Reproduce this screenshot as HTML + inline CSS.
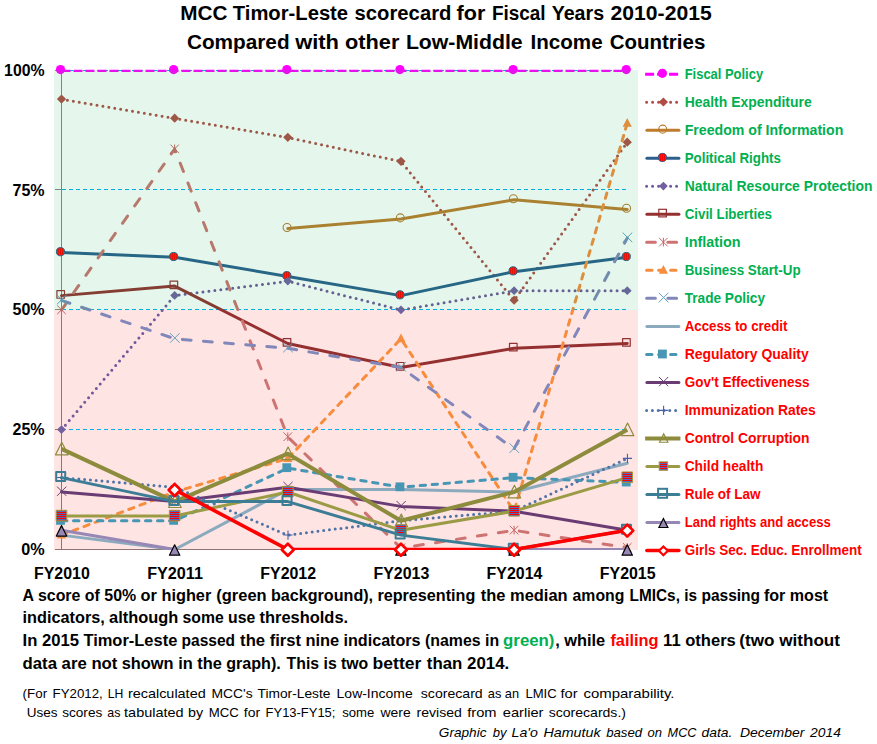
<!DOCTYPE html>
<html lang="en"><head><meta charset="utf-8"><title>MCC Timor-Leste scorecard for Fiscal Years 2010-2015</title>
<style>html,body{margin:0;padding:0;background:#fff}body{width:877px;height:744px;overflow:hidden}svg{display:block}text{white-space:pre}</style>
</head><body>
<svg width="877" height="744" viewBox="0 0 877 744" font-family="'Liberation Sans', sans-serif">
<defs>
<pattern id="pv" width="2" height="4" patternUnits="userSpaceOnUse" shape-rendering="crispEdges"><rect width="2" height="4" fill="#3F5FA8"/><rect x="0" width="1" height="4" fill="#FF0000"/></pattern>
<pattern id="ph" width="4" height="2" patternUnits="userSpaceOnUse" shape-rendering="crispEdges"><rect width="4" height="2" fill="#5566BB"/><rect y="0" width="4" height="1" fill="#FF0000"/></pattern>
<clipPath id="pc"><rect x="40" y="69.7" width="620" height="480.4"/></clipPath>
</defs>
<rect width="877" height="744" fill="#fff"/>
<rect x="54" y="310" width="584" height="240" fill="#FFE4E4"/>
<path d="M62 70.5H626.5" stroke="#00B0F0" stroke-width="1" stroke-dasharray="4 3" fill="none"/>
<path d="M62 189.5H626.5" stroke="#00B0F0" stroke-width="1" stroke-dasharray="4 3" fill="none"/>
<path d="M62 309.5H626.5" stroke="#00B0F0" stroke-width="1" stroke-dasharray="4 3" fill="none"/>
<path d="M62 429.5H626.5" stroke="#00B0F0" stroke-width="1" stroke-dasharray="4 3" fill="none"/>
<path d="M61.5 70V310M55 70.5H61.5M55 189.5H61.5M55 309.5H61.5" stroke="#868686" stroke-width="1" fill="none"/>
<path d="M61.5 310V550M55 549.5H627.5M55 429.5H61.5" stroke="#927477" stroke-width="1" fill="none"/>
<g fill="none" stroke-linejoin="round">
<path clip-path="url(#pc)" d="M61.50 70.50L174.65 70.50L287.80 70.50L400.95 70.50L514.10 70.50L627.25 70.50" stroke="#FF00FF" stroke-width="3" stroke-linecap="butt" stroke-dasharray="9 3"/>
<circle cx="60.5" cy="69.6" r="4.6" fill="#FF00FF"/>
<circle cx="173.65" cy="69.6" r="4.6" fill="#FF00FF"/>
<circle cx="286.8" cy="69.6" r="4.6" fill="#FF00FF"/>
<circle cx="399.95" cy="69.6" r="4.6" fill="#FF00FF"/>
<circle cx="513.1" cy="69.6" r="4.6" fill="#FF00FF"/>
<circle cx="626.25" cy="69.6" r="4.6" fill="#FF00FF"/>
<path clip-path="url(#pc)" d="M61.50 99.24L174.65 118.40L287.80 137.56L400.95 161.51L514.10 300.42L627.25 142.35" stroke="#B04C46" stroke-width="3" stroke-linecap="round" stroke-dasharray="0 6"/>
<path d="M61.5 94.44L66.1 99.04L61.5 103.64L56.9 99.04Z" fill="#B04C46"/>
<path d="M174.65 113.6L179.25 118.2L174.65 122.8L170.05 118.2Z" fill="#B04C46"/>
<path d="M287.8 132.76L292.4 137.36L287.8 141.96L283.2 137.36Z" fill="#B04C46"/>
<path d="M400.95 156.71L405.55 161.31L400.95 165.91L396.35 161.31Z" fill="#B04C46"/>
<path d="M514.1 295.62L518.7 300.22L514.1 304.82L509.5 300.22Z" fill="#B04C46"/>
<path d="M627.25 137.55L631.85 142.15L627.25 146.75L622.65 142.15Z" fill="#B04C46"/>
<path clip-path="url(#pc)" d="M287.80 228.57L400.95 218.99L514.10 199.83L627.25 209.41" stroke="#BE7C2D" stroke-width="3" stroke-linecap="round"/>
<circle cx="287.1" cy="227.47" r="4" fill="none" stroke="#B97A2D" stroke-width="1.1"/>
<circle cx="400.25" cy="217.89" r="4" fill="none" stroke="#B97A2D" stroke-width="1.1"/>
<circle cx="513.4" cy="198.73" r="4" fill="none" stroke="#B97A2D" stroke-width="1.1"/>
<circle cx="626.55" cy="208.31" r="4" fill="none" stroke="#B97A2D" stroke-width="1.1"/>
<path clip-path="url(#pc)" d="M61.50 252.52L174.65 257.31L287.80 276.47L400.95 295.63L514.10 271.68L627.25 257.31" stroke="#2C5F8C" stroke-width="3" stroke-linecap="round"/>
<circle cx="60.5" cy="251.72" r="4.1" fill="url(#pv)" stroke="#2C5F8C" stroke-width="1"/>
<circle cx="173.65" cy="256.51" r="4.1" fill="url(#pv)" stroke="#2C5F8C" stroke-width="1"/>
<circle cx="286.8" cy="275.67" r="4.1" fill="url(#pv)" stroke="#2C5F8C" stroke-width="1"/>
<circle cx="399.95" cy="294.83" r="4.1" fill="url(#pv)" stroke="#2C5F8C" stroke-width="1"/>
<circle cx="513.1" cy="270.88" r="4.1" fill="url(#pv)" stroke="#2C5F8C" stroke-width="1"/>
<circle cx="626.25" cy="256.51" r="4.1" fill="url(#pv)" stroke="#2C5F8C" stroke-width="1"/>
<path clip-path="url(#pc)" d="M61.50 429.75L174.65 295.63L287.80 281.26L400.95 310.00L514.10 290.84L627.25 290.84" stroke="#70589A" stroke-width="3" stroke-linecap="round" stroke-dasharray="0 6"/>
<path d="M61.5 425.15L65.9 429.55L61.5 433.95L57.1 429.55Z" fill="#7260A0"/>
<path d="M174.65 291.03L179.05 295.43L174.65 299.83L170.25 295.43Z" fill="#7260A0"/>
<path d="M287.8 276.66L292.2 281.06L287.8 285.46L283.4 281.06Z" fill="#7260A0"/>
<path d="M400.95 305.4L405.35 309.8L400.95 314.2L396.55 309.8Z" fill="#7260A0"/>
<path d="M514.1 286.24L518.5 290.64L514.1 295.04L509.7 290.64Z" fill="#7260A0"/>
<path d="M627.25 286.24L631.65 290.64L627.25 295.04L622.85 290.64Z" fill="#7260A0"/>
<path clip-path="url(#pc)" d="M61.50 295.63L174.65 286.05L287.80 343.53L400.95 367.48L514.10 348.32L627.25 343.53" stroke="#943030" stroke-width="3" stroke-linecap="round"/>
<rect x="56.9" y="290.63" width="7.6" height="7.6" fill="none" stroke="#943030" stroke-width="1.2"/>
<rect x="170.05" y="281.05" width="7.6" height="7.6" fill="none" stroke="#943030" stroke-width="1.2"/>
<rect x="283.2" y="338.53" width="7.6" height="7.6" fill="none" stroke="#943030" stroke-width="1.2"/>
<rect x="396.35" y="362.48" width="7.6" height="7.6" fill="none" stroke="#943030" stroke-width="1.2"/>
<rect x="509.5" y="343.32" width="7.6" height="7.6" fill="none" stroke="#943030" stroke-width="1.2"/>
<rect x="622.65" y="338.53" width="7.6" height="7.6" fill="none" stroke="#943030" stroke-width="1.2"/>
<path clip-path="url(#pc)" d="M61.50 310.00L174.65 149.06L287.80 436.94L400.95 548.06L514.10 530.34L627.25 547.58" stroke="#CD7371" stroke-width="3" stroke-linecap="round" stroke-dasharray="8.8 12.4"/>
<path d="M57.2 305.5L65.8 314.1M57.2 314.1L65.8 305.5M61.5 305.5L61.5 314.1" stroke="#C86464" stroke-width="1" fill="none"/>
<path d="M170.35 144.56L178.95 153.16M170.35 153.16L178.95 144.56M174.65 144.56L174.65 153.16" stroke="#C86464" stroke-width="1" fill="none"/>
<path d="M283.5 432.44L292.1 441.04M283.5 441.04L292.1 432.44M287.8 432.44L287.8 441.04" stroke="#C86464" stroke-width="1" fill="none"/>
<path d="M396.65 543.56L405.25 552.16M396.65 552.16L405.25 543.56M400.95 543.56L400.95 552.16" stroke="#C86464" stroke-width="1" fill="none"/>
<path d="M509.8 525.84L518.4 534.44M509.8 534.44L518.4 525.84M514.1 525.84L514.1 534.44" stroke="#C86464" stroke-width="1" fill="none"/>
<path d="M622.95 543.08L631.55 551.68M622.95 551.68L631.55 543.08M627.25 543.08L627.25 551.68" stroke="#C86464" stroke-width="1" fill="none"/>
<path clip-path="url(#pc)" d="M61.50 535.13L174.65 492.02L287.80 458.49L400.95 338.74L514.10 511.18L627.25 123.19" stroke="#F68C3C" stroke-width="3" stroke-linecap="round" stroke-dasharray="5.4 6.6"/>
<path d="M61.5 529.83L66.1 538.57L56.9 538.57Z" fill="#F68C3C"/>
<path d="M174.65 486.72L179.25 495.46L170.05 495.46Z" fill="#F68C3C"/>
<path d="M287.8 453.19L292.4 461.93L283.2 461.93Z" fill="#F68C3C"/>
<path d="M400.95 333.44L405.55 342.18L396.35 342.18Z" fill="#F68C3C"/>
<path d="M514.1 505.88L518.7 514.62L509.5 514.62Z" fill="#F68C3C"/>
<path d="M627.25 117.89L631.85 126.63L622.65 126.63Z" fill="#F68C3C"/>
<path clip-path="url(#pc)" d="M61.50 300.42L174.65 338.74L287.80 348.32L400.95 367.48L514.10 448.91L627.25 238.15" stroke="#8287B9" stroke-width="3" stroke-linecap="round" stroke-dasharray="8.8 12.4"/>
<path d="M56.9 294.82L66.5 304.42M56.9 304.42L66.5 294.82" stroke="#5FA0C0" stroke-width="1" fill="none"/>
<path d="M170.05 333.14L179.65 342.74M170.05 342.74L179.65 333.14" stroke="#5FA0C0" stroke-width="1" fill="none"/>
<path d="M283.2 342.72L292.8 352.32M283.2 352.32L292.8 342.72" stroke="#5FA0C0" stroke-width="1" fill="none"/>
<path d="M396.35 361.88L405.95 371.48M396.35 371.48L405.95 361.88" stroke="#5FA0C0" stroke-width="1" fill="none"/>
<path d="M509.5 443.31L519.1 452.91M509.5 452.91L519.1 443.31" stroke="#5FA0C0" stroke-width="1" fill="none"/>
<path d="M622.65 232.55L632.25 242.15M622.65 242.15L632.25 232.55" stroke="#5FA0C0" stroke-width="1" fill="none"/>
<path clip-path="url(#pc)" d="M61.50 535.13L174.65 549.50L287.80 489.62L400.95 489.62L514.10 492.02L627.25 463.28" stroke="#8CAABE" stroke-width="3" stroke-linecap="round"/>
<path clip-path="url(#pc)" d="M61.50 520.76L174.65 520.76L287.80 468.07L400.95 487.23L514.10 477.65L627.25 482.44" stroke="#4696B4" stroke-width="3" stroke-linecap="round" stroke-dasharray="5.4 6.6"/>
<rect x="56.1" y="515.96" width="8.8" height="8.8" fill="#4696B4"/>
<rect x="169.25" y="515.96" width="8.8" height="8.8" fill="#4696B4"/>
<rect x="282.4" y="463.27" width="8.8" height="8.8" fill="#4696B4"/>
<rect x="395.55" y="482.43" width="8.8" height="8.8" fill="#4696B4"/>
<rect x="508.7" y="472.85" width="8.8" height="8.8" fill="#4696B4"/>
<rect x="621.85" y="477.64" width="8.8" height="8.8" fill="#4696B4"/>
<path clip-path="url(#pc)" d="M61.50 492.02L174.65 501.60L287.80 487.23L400.95 506.39L514.10 511.18L627.25 530.34" stroke="#693C73" stroke-width="3" stroke-linecap="round"/>
<path d="M57.1 486.62L66.3 495.82M57.1 495.82L66.3 486.62" stroke="#693C73" stroke-width="1" fill="none"/>
<path d="M170.25 496.2L179.45 505.4M170.25 505.4L179.45 496.2" stroke="#693C73" stroke-width="1" fill="none"/>
<path d="M283.4 481.83L292.6 491.03M283.4 491.03L292.6 481.83" stroke="#693C73" stroke-width="1" fill="none"/>
<path d="M396.55 500.99L405.75 510.19M396.55 510.19L405.75 500.99" stroke="#693C73" stroke-width="1" fill="none"/>
<path d="M509.7 505.78L518.9 514.98M509.7 514.98L518.9 505.78" stroke="#693C73" stroke-width="1" fill="none"/>
<path d="M622.85 524.94L632.05 534.14M622.85 534.14L632.05 524.94" stroke="#693C73" stroke-width="1" fill="none"/>
<path clip-path="url(#pc)" d="M61.50 477.65L174.65 487.23L287.80 535.13L400.95 520.76L514.10 511.18L627.25 458.49" stroke="#5073A5" stroke-width="3" stroke-linecap="round" stroke-dasharray="0 5.8"/>
<path d="M57.1 477.55L66.3 477.55M61.7 472.95L61.7 482.15" stroke="#4A5FAA" stroke-width="1.1" fill="none"/>
<path d="M170.25 487.13L179.45 487.13M174.85 482.53L174.85 491.73" stroke="#4A5FAA" stroke-width="1.1" fill="none"/>
<path d="M283.4 535.03L292.6 535.03M288 530.43L288 539.63" stroke="#4A5FAA" stroke-width="1.1" fill="none"/>
<path d="M396.55 520.66L405.75 520.66M401.15 516.06L401.15 525.26" stroke="#4A5FAA" stroke-width="1.1" fill="none"/>
<path d="M509.7 511.08L518.9 511.08M514.3 506.48L514.3 515.68" stroke="#4A5FAA" stroke-width="1.1" fill="none"/>
<path d="M622.85 458.39L632.05 458.39M627.45 453.79L627.45 462.99" stroke="#4A5FAA" stroke-width="1.1" fill="none"/>
<path clip-path="url(#pc)" d="M61.50 448.91L174.65 501.60L287.80 453.70L400.95 520.76L514.10 492.02L627.25 429.75" stroke="#8C8C3C" stroke-width="4.0" stroke-linecap="butt"/>
<path d="M61.8 442.21L68.1 454.81L55.5 454.81Z" fill="none" stroke="#8C8C3C" stroke-width="1.2"/>
<path d="M174.95 494.9L181.25 507.5L168.65 507.5Z" fill="none" stroke="#8C8C3C" stroke-width="1.2"/>
<path d="M288.1 447L294.4 459.6L281.8 459.6Z" fill="none" stroke="#8C8C3C" stroke-width="1.2"/>
<path d="M401.25 514.06L407.55 526.66L394.95 526.66Z" fill="none" stroke="#8C8C3C" stroke-width="1.2"/>
<path d="M514.4 485.32L520.7 497.92L508.1 497.92Z" fill="none" stroke="#8C8C3C" stroke-width="1.2"/>
<path d="M627.55 423.05L633.85 435.65L621.25 435.65Z" fill="none" stroke="#8C8C3C" stroke-width="1.2"/>
<path clip-path="url(#pc)" d="M61.50 515.97L174.65 515.97L287.80 492.02L400.95 530.34L514.10 511.18L627.25 477.65" stroke="#9B9B46" stroke-width="3" stroke-linecap="round"/>
<rect x="56.2" y="510.27" width="10.6" height="10.6" fill="url(#ph)" stroke="#9B9B46" stroke-width="1"/>
<rect x="169.35" y="510.27" width="10.6" height="10.6" fill="url(#ph)" stroke="#9B9B46" stroke-width="1"/>
<rect x="282.5" y="486.32" width="10.6" height="10.6" fill="url(#ph)" stroke="#9B9B46" stroke-width="1"/>
<rect x="395.65" y="524.64" width="10.6" height="10.6" fill="url(#ph)" stroke="#9B9B46" stroke-width="1"/>
<rect x="508.8" y="505.48" width="10.6" height="10.6" fill="url(#ph)" stroke="#9B9B46" stroke-width="1"/>
<rect x="621.95" y="471.95" width="10.6" height="10.6" fill="url(#ph)" stroke="#9B9B46" stroke-width="1"/>
<path clip-path="url(#pc)" d="M61.50 477.65L174.65 501.60L287.80 501.60L400.95 535.13L514.10 549.50L627.25 530.34" stroke="#3C7D96" stroke-width="3" stroke-linecap="round"/>
<rect x="56.2" y="471.95" width="9" height="9" fill="none" stroke="#3C7D96" stroke-width="2"/>
<rect x="169.35" y="495.9" width="9" height="9" fill="none" stroke="#3C7D96" stroke-width="2"/>
<rect x="282.5" y="495.9" width="9" height="9" fill="none" stroke="#3C7D96" stroke-width="2"/>
<rect x="395.65" y="529.43" width="9" height="9" fill="none" stroke="#3C7D96" stroke-width="2"/>
<rect x="508.8" y="543.8" width="9" height="9" fill="none" stroke="#3C7D96" stroke-width="2"/>
<rect x="621.95" y="524.64" width="9" height="9" fill="none" stroke="#3C7D96" stroke-width="2"/>
<path clip-path="url(#pc)" d="M61.50 530.34L174.65 549.50" stroke="#9687B4" stroke-width="3" stroke-linecap="round"/>
<path clip-path="url(#pc)" d="M400.95 549.50L514.10 549.50L627.25 549.50" stroke="#9687B4" stroke-width="3" stroke-linecap="round"/>
<path d="M61.5 525.64L66.7 536.04L56.3 536.04Z" fill="#9687B4" stroke="#000" stroke-width="1.2"/>
<path d="M174.65 544.8L179.85 555.2L169.45 555.2Z" fill="#9687B4" stroke="#000" stroke-width="1.2"/>
<path d="M400.95 544.8L406.15 555.2L395.75 555.2Z" fill="#9687B4" stroke="#000" stroke-width="1.2"/>
<path d="M514.1 544.8L519.3 555.2L508.9 555.2Z" fill="#9687B4" stroke="#000" stroke-width="1.2"/>
<path d="M627.25 544.8L632.45 555.2L622.05 555.2Z" fill="#9687B4" stroke="#000" stroke-width="1.2"/>
<path clip-path="url(#pc)" d="M174.65 489.62L287.80 549.50L400.95 549.50L514.10 549.50L627.25 530.34" stroke="#FF0000" stroke-width="3.6" stroke-linecap="round"/>
<path d="M174.65 483.93L180.65 489.93L174.65 495.93L168.65 489.93Z" fill="#fff" stroke="#FF0000" stroke-width="2.7"/>
<path d="M287.8 543.8L293.8 549.8L287.8 555.8L281.8 549.8Z" fill="#fff" stroke="#FF0000" stroke-width="2.7"/>
<path d="M400.95 543.8L406.95 549.8L400.95 555.8L394.95 549.8Z" fill="#fff" stroke="#FF0000" stroke-width="2.7"/>
<path d="M514.1 543.8L520.1 549.8L514.1 555.8L508.1 549.8Z" fill="#fff" stroke="#FF0000" stroke-width="2.7"/>
<path d="M627.25 524.64L633.25 530.64L627.25 536.64L621.25 530.64Z" fill="#fff" stroke="#FF0000" stroke-width="2.7"/>
</g>
<rect x="54" y="70" width="584" height="240" fill="#00B050" fill-opacity="0.10"/>
<path d="M645.1 74.20H680.4" stroke="#FF00FF" stroke-width="3" stroke-linecap="butt" fill="none" stroke-dasharray="9 3"/>
<circle cx="662.4" cy="73.3" r="4.6" fill="#FF00FF"/>
<path d="M646.6 102.22H677.5" stroke="#B04C46" stroke-width="3" stroke-linecap="round" fill="none" stroke-dasharray="0 6"/>
<path d="M663.4 97.42L668 102.02L663.4 106.62L658.8 102.02Z" fill="#B04C46"/>
<path d="M646.9 130.24H678.9" stroke="#BE7C2D" stroke-width="3" stroke-linecap="round" fill="none"/>
<circle cx="662.7" cy="129.14" r="4" fill="none" stroke="#B97A2D" stroke-width="1.1"/>
<path d="M646.9 158.26H678.9" stroke="#2C5F8C" stroke-width="3" stroke-linecap="round" fill="none"/>
<circle cx="662.4" cy="157.46" r="4.1" fill="url(#pv)" stroke="#2C5F8C" stroke-width="1"/>
<path d="M646.6 186.28H677.5" stroke="#70589A" stroke-width="3" stroke-linecap="round" fill="none" stroke-dasharray="0 6"/>
<path d="M663.4 181.68L667.8 186.08L663.4 190.48L659 186.08Z" fill="#7260A0"/>
<path d="M646.9 214.30H678.9" stroke="#943030" stroke-width="3" stroke-linecap="round" fill="none"/>
<rect x="658.8" y="209.3" width="7.6" height="7.6" fill="none" stroke="#943030" stroke-width="1.2"/>
<path d="M646.6 242.32H679.0" stroke="#CD7371" stroke-width="3" stroke-linecap="round" fill="none" stroke-dasharray="8.8 12.4"/>
<path d="M659.1 237.82L667.7 246.42M659.1 246.42L667.7 237.82M663.4 237.82L663.4 246.42" stroke="#C86464" stroke-width="1" fill="none"/>
<path d="M646.6 270.34H679.0" stroke="#F68C3C" stroke-width="3" stroke-linecap="round" fill="none" stroke-dasharray="5.4 6.6"/>
<path d="M663.4 265.04L668 273.78L658.8 273.78Z" fill="#F68C3C"/>
<path d="M646.6 298.36H679.0" stroke="#8287B9" stroke-width="3" stroke-linecap="round" fill="none" stroke-dasharray="8.8 12.4"/>
<path d="M658.8 292.76L668.4 302.36M658.8 302.36L668.4 292.76" stroke="#5FA0C0" stroke-width="1" fill="none"/>
<path d="M646.9 326.38H678.9" stroke="#8CAABE" stroke-width="3" stroke-linecap="round" fill="none"/>
<path d="M646.6 354.40H679.0" stroke="#4696B4" stroke-width="3" stroke-linecap="round" fill="none" stroke-dasharray="5.4 6.6"/>
<rect x="658" y="349.6" width="8.8" height="8.8" fill="#4696B4"/>
<path d="M646.9 382.42H678.9" stroke="#693C73" stroke-width="3" stroke-linecap="round" fill="none"/>
<path d="M659 377.02L668.2 386.22M659 386.22L668.2 377.02" stroke="#693C73" stroke-width="1" fill="none"/>
<path d="M646.6 410.44H677.5" stroke="#5073A5" stroke-width="3" stroke-linecap="round" fill="none" stroke-dasharray="0 5.8"/>
<path d="M659 410.34L668.2 410.34M663.6 405.74L663.6 414.94" stroke="#4A5FAA" stroke-width="1.1" fill="none"/>
<path d="M645.1 438.46H680.4" stroke="#8C8C3C" stroke-width="4.0" stroke-linecap="butt" fill="none"/>
<path d="M663.7 433.86L667.9 442.26L659.5 442.26Z" fill="none" stroke="#8C8C3C" stroke-width="1.2"/>
<path d="M646.9 466.48H678.9" stroke="#9B9B46" stroke-width="3" stroke-linecap="round" fill="none"/>
<rect x="659.2" y="461.88" width="8.4" height="8.4" fill="url(#ph)" stroke="#9B9B46" stroke-width="1"/>
<path d="M646.9 494.50H678.9" stroke="#3C7D96" stroke-width="3" stroke-linecap="round" fill="none"/>
<rect x="658.1" y="488.8" width="9" height="9" fill="none" stroke="#3C7D96" stroke-width="2"/>
<path d="M646.9 522.52H678.9" stroke="#9687B4" stroke-width="3" stroke-linecap="round" fill="none"/>
<path d="M663.4 518.52L667.9 527.52L658.9 527.52Z" fill="#9687B4" stroke="#000" stroke-width="1.2"/>
<path d="M646.9 550.54H678.9" stroke="#FF0000" stroke-width="3.6" stroke-linecap="round" fill="none"/>
<path d="M663.4 546.44L667.8 550.84L663.4 555.24L659 550.84Z" fill="#fff" stroke="#FF0000" stroke-width="2.2"/>
<text y="19.7" font-size="20.9" font-weight="bold"><tspan x="180.2" textLength="47.2" lengthAdjust="spacingAndGlyphs">MCC</tspan> <tspan x="232.8" textLength="115.3" lengthAdjust="spacingAndGlyphs">Timor-Leste</tspan> <tspan x="354.6" textLength="96.8" lengthAdjust="spacingAndGlyphs">scorecard</tspan> <tspan x="456.6" textLength="28.8" lengthAdjust="spacingAndGlyphs">for</tspan> <tspan x="491.9" textLength="53.7" lengthAdjust="spacingAndGlyphs">Fiscal</tspan> <tspan x="551.7" textLength="52.4" lengthAdjust="spacingAndGlyphs">Years</tspan> <tspan x="610.6" textLength="101.1" lengthAdjust="spacingAndGlyphs">2010-2015</tspan></text>
<text y="48.6" font-size="20.9" font-weight="bold"><tspan x="186.9" textLength="102.7" lengthAdjust="spacingAndGlyphs">Compared</tspan> <tspan x="295.2" textLength="43.8" lengthAdjust="spacingAndGlyphs">with</tspan> <tspan x="345.0" textLength="54.4" lengthAdjust="spacingAndGlyphs">other</tspan> <tspan x="405.9" textLength="116.8" lengthAdjust="spacingAndGlyphs">Low-Middle</tspan> <tspan x="530.5" textLength="72.1" lengthAdjust="spacingAndGlyphs">Income</tspan> <tspan x="609.7" textLength="95.6" lengthAdjust="spacingAndGlyphs">Countries</tspan></text>
<text y="76.0" font-size="16.3" font-weight="bold" x="4.1" textLength="40.5" lengthAdjust="spacingAndGlyphs">100%</text>
<text y="195.6" font-size="16.3" font-weight="bold" x="12.5" textLength="32.1" lengthAdjust="spacingAndGlyphs">75%</text>
<text y="315.0" font-size="16.3" font-weight="bold" x="12.5" textLength="32.1" lengthAdjust="spacingAndGlyphs">50%</text>
<text y="435.0" font-size="16.3" font-weight="bold" x="12.5" textLength="32.1" lengthAdjust="spacingAndGlyphs">25%</text>
<text y="555.0" font-size="16.3" font-weight="bold" x="21.2" textLength="23.4" lengthAdjust="spacingAndGlyphs">0%</text>
<text y="578.9" font-size="16.3" font-weight="bold"><tspan x="34.0" textLength="55.8" lengthAdjust="spacingAndGlyphs">FY2010</tspan> <tspan x="147.2" textLength="55.8" lengthAdjust="spacingAndGlyphs">FY2011</tspan> <tspan x="260.3" textLength="55.8" lengthAdjust="spacingAndGlyphs">FY2012</tspan> <tspan x="373.5" textLength="55.8" lengthAdjust="spacingAndGlyphs">FY2013</tspan> <tspan x="486.6" textLength="55.8" lengthAdjust="spacingAndGlyphs">FY2014</tspan> <tspan x="599.8" textLength="55.8" lengthAdjust="spacingAndGlyphs">FY2015</tspan></text>
<text y="600.7" font-size="16.3" font-weight="bold"><tspan x="22.6" textLength="113.6" lengthAdjust="spacingAndGlyphs">A score of 50%</tspan> <tspan x="140.6" textLength="70.7" lengthAdjust="spacingAndGlyphs">or higher</tspan> <tspan x="216.3" textLength="50.3" lengthAdjust="spacingAndGlyphs">(green</tspan> <tspan x="271.0" textLength="102.1" lengthAdjust="spacingAndGlyphs">background),</tspan> <tspan x="377.4" textLength="97.9" lengthAdjust="spacingAndGlyphs">representing</tspan> <tspan x="480.8" textLength="86.8" lengthAdjust="spacingAndGlyphs">the median</tspan> <tspan x="572.6" textLength="51.7" lengthAdjust="spacingAndGlyphs">among</tspan> <tspan x="629.6" textLength="67.4" lengthAdjust="spacingAndGlyphs">LMICs, is</tspan> <tspan x="701.4" textLength="58.7" lengthAdjust="spacingAndGlyphs">passing</tspan> <tspan x="763.9" textLength="64.3" lengthAdjust="spacingAndGlyphs">for most</tspan></text>
<text y="623.4" font-size="16.3" font-weight="bold"><tspan x="22.6" textLength="82.2" lengthAdjust="spacingAndGlyphs">indicators,</tspan> <tspan x="109.1" textLength="69.2" lengthAdjust="spacingAndGlyphs">although</tspan> <tspan x="182.6" textLength="72.6" lengthAdjust="spacingAndGlyphs">some use</tspan> <tspan x="259.5" textLength="88.6" lengthAdjust="spacingAndGlyphs">thresholds.</tspan></text>
<text y="645.9" font-size="16.3" font-weight="bold"><tspan x="22.6" textLength="56.5" lengthAdjust="spacingAndGlyphs">In 2015</tspan> <tspan x="83.4" textLength="93.9" lengthAdjust="spacingAndGlyphs">Timor-Leste</tspan> <tspan x="181.6" textLength="53.5" lengthAdjust="spacingAndGlyphs">passed</tspan> <tspan x="240.1" textLength="61.0" lengthAdjust="spacingAndGlyphs">the first</tspan> <tspan x="305.4" textLength="33.8" lengthAdjust="spacingAndGlyphs">nine</tspan> <tspan x="343.5" textLength="77.1" lengthAdjust="spacingAndGlyphs">indicators</tspan> <tspan x="425.1" textLength="74.0" lengthAdjust="spacingAndGlyphs">(names in</tspan> <tspan x="503.1" textLength="51.3" lengthAdjust="spacingAndGlyphs" fill="#00B050">green)</tspan> <tspan x="555.2" textLength="50.0" lengthAdjust="spacingAndGlyphs">, while</tspan> <tspan x="610.4" textLength="48.1" lengthAdjust="spacingAndGlyphs" fill="#FF0000">failing</tspan> <tspan x="663.1" textLength="72.7" lengthAdjust="spacingAndGlyphs">11 others</tspan> <tspan x="739.3" textLength="100.7" lengthAdjust="spacingAndGlyphs">(two without</tspan></text>
<text y="668.5" font-size="16.3" font-weight="bold"><tspan x="22.6" textLength="94.8" lengthAdjust="spacingAndGlyphs">data are not</tspan> <tspan x="121.7" textLength="100.2" lengthAdjust="spacingAndGlyphs">shown in the</tspan> <tspan x="226.2" textLength="54.6" lengthAdjust="spacingAndGlyphs">graph).</tspan> <tspan x="286.6" textLength="81.7" lengthAdjust="spacingAndGlyphs">This is two</tspan> <tspan x="372.6" textLength="48.7" lengthAdjust="spacingAndGlyphs">better</tspan> <tspan x="426.8" textLength="82.4" lengthAdjust="spacingAndGlyphs">than 2014.</tspan></text>
<text y="698.1" font-size="13.0"><tspan x="22.6" textLength="24.5" lengthAdjust="spacingAndGlyphs">(For</tspan> <tspan x="52.6" textLength="50.2" lengthAdjust="spacingAndGlyphs">FY2012,</tspan> <tspan x="107.8" textLength="15.6" lengthAdjust="spacingAndGlyphs">LH</tspan> <tspan x="127.9" textLength="77.8" lengthAdjust="spacingAndGlyphs">recalculated</tspan> <tspan x="211.4" textLength="41.2" lengthAdjust="spacingAndGlyphs">MCC's</tspan> <tspan x="257.6" textLength="72.8" lengthAdjust="spacingAndGlyphs">Timor-Leste</tspan> <tspan x="336.6" textLength="76.1" lengthAdjust="spacingAndGlyphs">Low-Income</tspan> <tspan x="420.8" textLength="61.9" lengthAdjust="spacingAndGlyphs">scorecard</tspan> <tspan x="487.8" textLength="31.3" lengthAdjust="spacingAndGlyphs">as an</tspan> <tspan x="525.4" textLength="31.3" lengthAdjust="spacingAndGlyphs">LMIC</tspan> <tspan x="560.5" textLength="17.1" lengthAdjust="spacingAndGlyphs">for</tspan> <tspan x="583.6" textLength="90.9" lengthAdjust="spacingAndGlyphs">comparability.</tspan></text>
<text y="717.1" font-size="13.0"><tspan x="26.8" textLength="30.8" lengthAdjust="spacingAndGlyphs">Uses</tspan> <tspan x="62.2" textLength="40.1" lengthAdjust="spacingAndGlyphs">scores</tspan> <tspan x="107.3" textLength="13.1" lengthAdjust="spacingAndGlyphs">as</tspan> <tspan x="124.1" textLength="59.5" lengthAdjust="spacingAndGlyphs">tabulated</tspan> <tspan x="188.1" textLength="15.1" lengthAdjust="spacingAndGlyphs">by</tspan> <tspan x="208.7" textLength="30.1" lengthAdjust="spacingAndGlyphs">MCC</tspan> <tspan x="243.8" textLength="16.3" lengthAdjust="spacingAndGlyphs">for</tspan> <tspan x="265.6" textLength="69.8" lengthAdjust="spacingAndGlyphs">FY13-FY15;</tspan> <tspan x="342.2" textLength="32.1" lengthAdjust="spacingAndGlyphs">some</tspan> <tspan x="380.5" textLength="30.2" lengthAdjust="spacingAndGlyphs">were</tspan> <tspan x="416.6" textLength="45.3" lengthAdjust="spacingAndGlyphs">revised</tspan> <tspan x="467.2" textLength="29.3" lengthAdjust="spacingAndGlyphs">from</tspan> <tspan x="502.8" textLength="40.7" lengthAdjust="spacingAndGlyphs">earlier</tspan> <tspan x="548.7" textLength="77.3" lengthAdjust="spacingAndGlyphs">scorecards.)</tspan></text>
<text y="736.5" font-size="13.0" font-style="italic"><tspan x="438.8" textLength="47.7" lengthAdjust="spacingAndGlyphs">Graphic</tspan> <tspan x="492.8" textLength="13.8" lengthAdjust="spacingAndGlyphs">by</tspan> <tspan x="511.6" textLength="26.3" lengthAdjust="spacingAndGlyphs">La'o</tspan> <tspan x="543.4" textLength="57.2" lengthAdjust="spacingAndGlyphs">Hamutuk</tspan> <tspan x="606.2" textLength="35.9" lengthAdjust="spacingAndGlyphs">based</tspan> <tspan x="647.6" textLength="14.5" lengthAdjust="spacingAndGlyphs">on</tspan> <tspan x="667.6" textLength="28.9" lengthAdjust="spacingAndGlyphs">MCC</tspan> <tspan x="701.5" textLength="30.9" lengthAdjust="spacingAndGlyphs">data.</tspan> <tspan x="739.9" textLength="64.5" lengthAdjust="spacingAndGlyphs">December</tspan> <tspan x="810.1" textLength="30.8" lengthAdjust="spacingAndGlyphs">2014</tspan></text>
<text y="78.8" font-size="14.0" font-weight="bold" fill="#00B050" x="684.7" textLength="78.4" lengthAdjust="spacingAndGlyphs">Fiscal Policy</text>
<text y="106.8" font-size="14.0" font-weight="bold" fill="#00B050" x="684.7" textLength="127.0" lengthAdjust="spacingAndGlyphs">Health Expenditure</text>
<text y="134.8" font-size="14.0" font-weight="bold" fill="#00B050" x="684.7" textLength="158.6" lengthAdjust="spacingAndGlyphs">Freedom of Information</text>
<text y="162.9" font-size="14.0" font-weight="bold" fill="#00B050" x="684.7" textLength="96.2" lengthAdjust="spacingAndGlyphs">Political Rights</text>
<text y="190.9" font-size="14.0" font-weight="bold" fill="#00B050" x="684.7" textLength="187.8" lengthAdjust="spacingAndGlyphs">Natural Resource Protection</text>
<text y="218.9" font-size="14.0" font-weight="bold" fill="#00B050" x="684.7" textLength="87.3" lengthAdjust="spacingAndGlyphs">Civil Liberties</text>
<text y="246.9" font-size="14.0" font-weight="bold" fill="#00B050" x="684.7" textLength="55.9" lengthAdjust="spacingAndGlyphs">Inflation</text>
<text y="274.9" font-size="14.0" font-weight="bold" fill="#00B050" x="684.7" textLength="115.9" lengthAdjust="spacingAndGlyphs">Business Start-Up</text>
<text y="303.0" font-size="14.0" font-weight="bold" fill="#00B050" x="684.7" textLength="80.3" lengthAdjust="spacingAndGlyphs">Trade Policy</text>
<text y="331.0" font-size="14.0" font-weight="bold" fill="#FF0000" x="684.7" textLength="102.7" lengthAdjust="spacingAndGlyphs">Access to credit</text>
<text y="359.0" font-size="14.0" font-weight="bold" fill="#FF0000" x="684.7" textLength="124.0" lengthAdjust="spacingAndGlyphs">Regulatory Quality</text>
<text y="387.0" font-size="14.0" font-weight="bold" fill="#FF0000" x="684.7" textLength="124.9" lengthAdjust="spacingAndGlyphs">Gov't Effectiveness</text>
<text y="415.0" font-size="14.0" font-weight="bold" fill="#FF0000" x="684.7" textLength="131.1" lengthAdjust="spacingAndGlyphs">Immunization Rates</text>
<text y="443.1" font-size="14.0" font-weight="bold" fill="#FF0000" x="684.7" textLength="124.9" lengthAdjust="spacingAndGlyphs">Control Corruption</text>
<text y="471.1" font-size="14.0" font-weight="bold" fill="#FF0000" x="684.7" textLength="78.6" lengthAdjust="spacingAndGlyphs">Child health</text>
<text y="499.1" font-size="14.0" font-weight="bold" fill="#FF0000" x="684.7" textLength="75.9" lengthAdjust="spacingAndGlyphs">Rule of Law</text>
<text y="527.1" font-size="14.0" font-weight="bold" fill="#FF0000" x="684.7" textLength="146.2" lengthAdjust="spacingAndGlyphs">Land rights and access</text>
<text y="555.1" font-size="14.0" font-weight="bold" fill="#FF0000" x="684.7" textLength="177.0" lengthAdjust="spacingAndGlyphs">Girls Sec. Educ. Enrollment</text>
</svg>
</body></html>
